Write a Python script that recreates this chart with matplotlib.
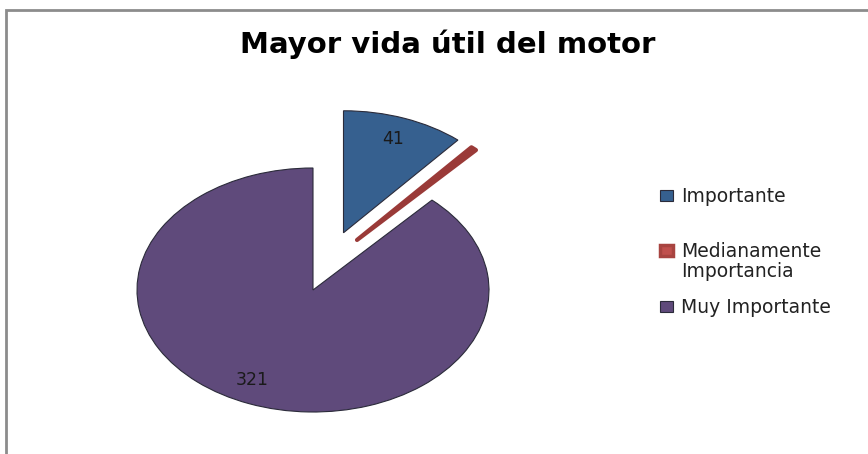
import matplotlib
matplotlib.use("Agg")
import matplotlib.pyplot as plt
from matplotlib.patches import Rectangle

# data
categories = ["Importante", "Medianamente\nImportancia", "Muy Importante"]
values = [41, 2, 321]
colors = ["#36608F", "#C0504D", "#5F4A7B"]
edge_colors = ["#2B2B3A", "#8E3331", "#2B2B3A"]
explode = [0.5, 0.45, 0.0]
title = "Mayor vida útil del motor"

W, H = 868, 454
fig = plt.figure(figsize=(W / 100, H / 100), dpi=100)
ax = fig.add_axes([0, 0, 1, 1])

total = sum(values)


def show_value(pct):
    v = int(round(pct * total / 100.0))
    return str(v) if v > 5 else ""


wedges, texts, autotexts = ax.pie(
    values, colors=colors, explode=explode, startangle=90, counterclock=False,
    autopct=show_value, pctdistance=0.82,
    textprops=dict(fontsize=12.5, family="DejaVu Sans", color="#1a1a1a"),
)
for w, ec in zip(wedges, edge_colors):
    w.set_edgecolor(ec)
    w.set_linewidth(0.8)

# the thin slice is pushed out a bit more upward than a plain radial explode
red = wedges[1]
red.set_center((0.25, 0.41))
red.set_facecolor("#9A3A38")
red.set_edgecolor("#9A3A38")
red.set_linewidth(3)
red.set_joinstyle("round")
red.set_capstyle("round")

# 321 label sits slightly further left in the original
x, y = autotexts[2].get_position()
autotexts[2].set_position((x - 0.05, y + 0.03))

# pie is stretched horizontally in the original
ax.set_aspect("auto")
cx, cy = 313, 290
rx, ry = 176, 122
ax.set_xlim(-cx / rx, (W - cx) / rx)
ax.set_ylim(-(H - cy) / ry, cy / ry)
ax.axis("off")

# outer chart frame (only left and top edges are visible)
fig.patches.append(Rectangle((6 / W, -0.1), 1.2, (H - 10) / H + 0.1,
                             transform=fig.transFigure, fill=False,
                             edgecolor="#8C8C8C", linewidth=2))

fig.text(0.5 * (228 + 667) / W, 1 - 44 / H, title, ha="center", va="center",
         fontsize=21, fontweight="bold", family="DejaVu Sans")

# legend drawn by hand to keep the uneven spacing of the original
leg_y = [196, 251, 307]
for lab, col, ec, y in zip(categories, colors, edge_colors, leg_y):
    lw = 2.5 if "Mediana" in lab else 0.8
    edge = "#A84440" if "Mediana" in lab else ec
    fig.patches.append(Rectangle((660 / W, 1 - (y + 5) / H), 13 / W, 11 / H,
                                 transform=fig.transFigure, facecolor=col,
                                 edgecolor=edge, linewidth=lw))
    fig.text(681 / W, 1 - (y - 9) / H, lab, ha="left", va="top",
             fontsize=13.5, family="DejaVu Sans", color="#222222", linespacing=1.05)

fig.savefig("out.png", dpi=100, facecolor="white")
